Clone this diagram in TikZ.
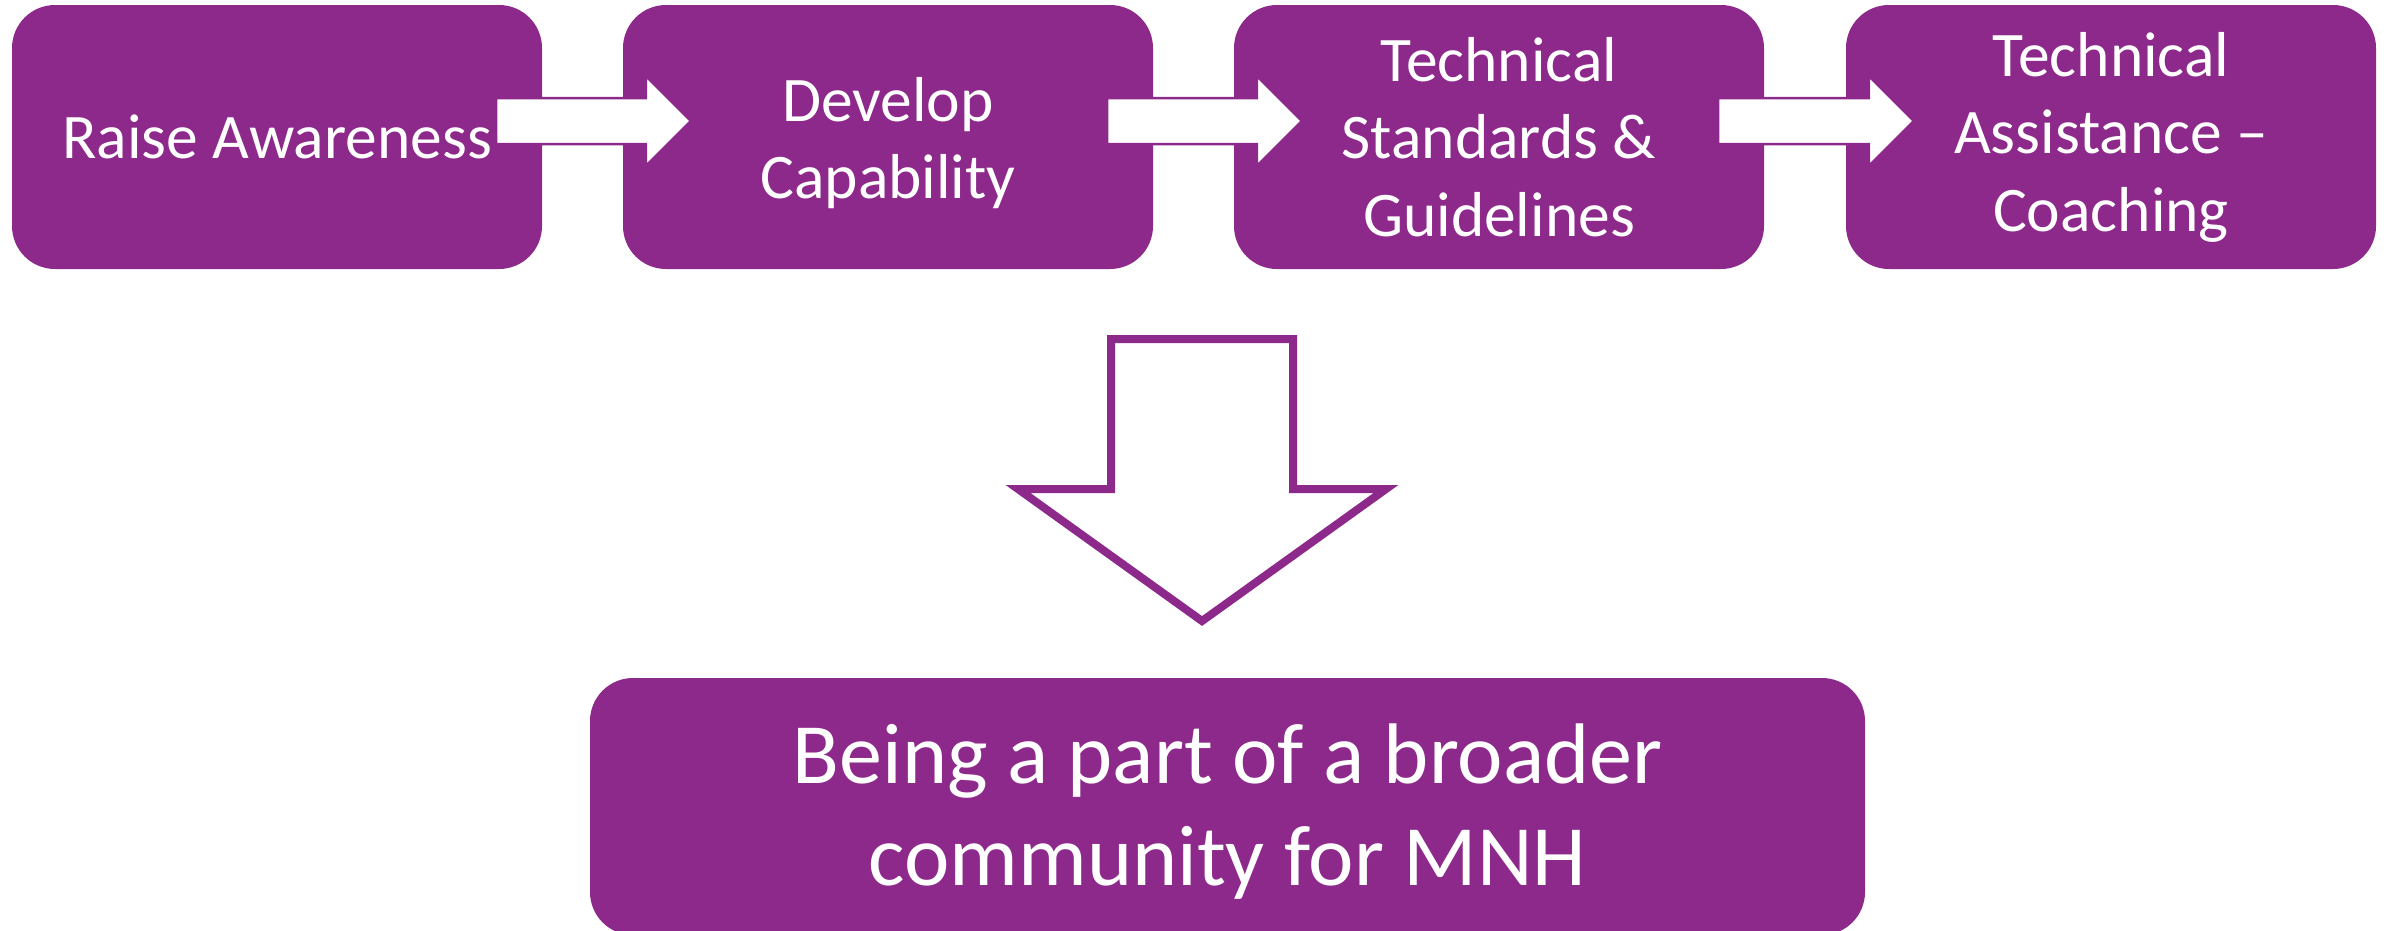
\documentclass[tikz,border=0pt]{standalone}
\usepackage{fontspec}
\setmainfont{Carlito}
\usetikzlibrary{calc}
\definecolor{mnhpurple}{RGB}{142,41,140}
\tikzset{
  stepbox/.style={fill=mnhpurple, draw=none, rounded corners=43pt, minimum width=530pt, minimum height=264pt,
    text=white, align=center, inner sep=0pt, font=\fontsize{63.5}{77.5}\selectfont},
  goalbox/.style={fill=mnhpurple, draw=none, rounded corners=43pt, minimum width=1275pt, minimum height=257pt,
    text=white, align=center, inner sep=0pt, font=\fontsize{86}{102}\selectfont},
  flowarr/.style={fill=white, draw=mnhpurple, line width=2.5pt, line join=miter},
  bigarr/.style={fill=white, draw=mnhpurple, line width=8pt, line join=miter},
}
\newcommand\flowarrow[2]{%
  \draw[flowarr] ($(#1.east)+(-46,-39)$) -- ($(#2.west)+(23,-39)$) -- ($(#2.west)+(23,-61)$)
    -- ($(#2.west)+(68,-16)$) -- ($(#2.west)+(23,29)$) -- ($(#2.west)+(23,7)$)
    -- ($(#1.east)+(-46,7)$) -- cycle;}
\newcommand\lowline[2]{\raisebox{-#1}[0pt][0pt]{#2}}
\begin{document}
\begin{tikzpicture}[x=1pt,y=-1pt]
\useasboundingbox (0,0) rectangle (2395,930);
\node[stepbox] (b1) at (277,137) {Raise Awareness};
\node[stepbox] (b2) at (888,137) {\lowline{23pt}{Develop}\\\lowline{23pt}{Capability}};
\node[stepbox] (b3) at (1499,137) {Technical\\Standards \&\\Guidelines};
\node[stepbox] (b4) at (2111,137) {Technical\\Assistance –\\Coaching};
\node[goalbox] (goal) at (1227.5,806.5) {\lowline{28pt}{Being a part of a broader}\\\lowline{28pt}{community for MNH}};
\flowarrow{b1}{b2}
\flowarrow{b2}{b3}
\flowarrow{b3}{b4}
\draw[bigarr] (1111,339) -- (1293,339) -- (1293,489) -- (1386,489) -- (1202,621) -- (1018,489) -- (1111,489) -- cycle;
\end{tikzpicture}
\end{document}
